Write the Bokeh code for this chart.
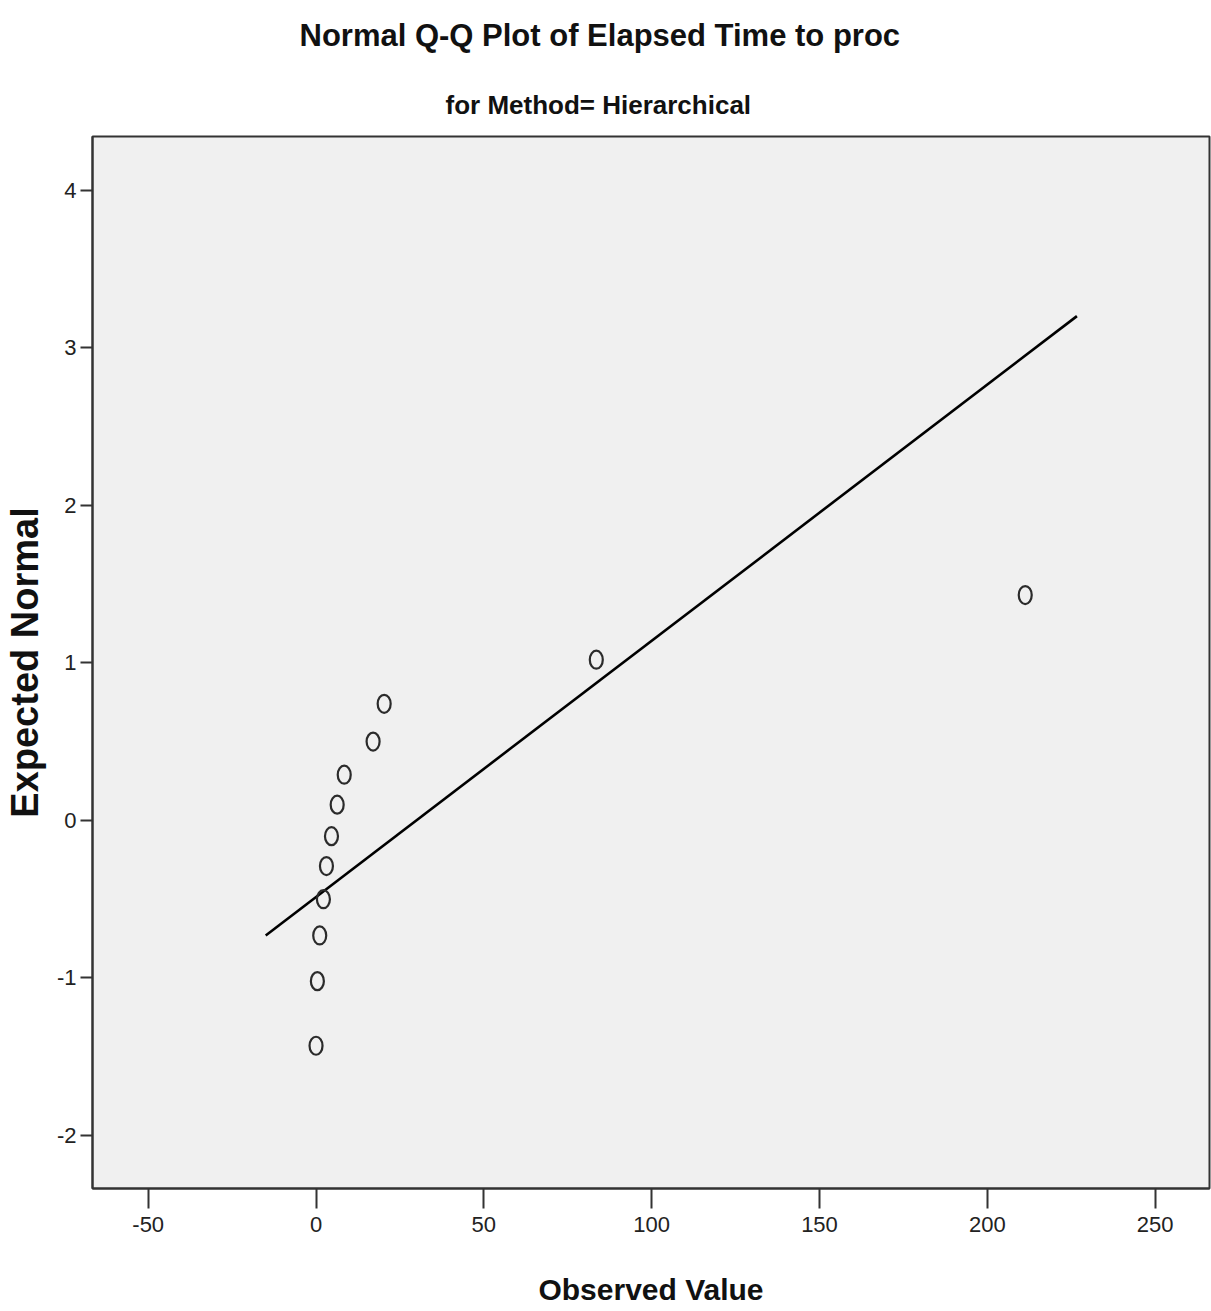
from bokeh.plotting import figure
from bokeh.models import Range1d, FixedTicker, Title, PrintfTickFormatter
from bokeh.embed import file_html
from bokeh.resources import INLINE

# Data
observed = [0.0, 0.4, 1.1, 2.2, 3.1, 4.6, 6.3, 8.4, 17.0, 20.3, 83.5, 211.3]
expected = [-1.43, -1.02, -0.73, -0.50, -0.29, -0.10, 0.10, 0.29, 0.50, 0.74, 1.02, 1.43]
line_x = [-15.0, 226.7]
line_y = [-0.73, 3.20]
x_ticks = [-50, 0, 50, 100, 150, 200, 250]
y_ticks = [-2, -1, 0, 1, 2, 3, 4]

FONT = "Liberation Sans"

p = figure(width=1211, height=1311, output_backend="svg", toolbar_location=None,
           x_range=Range1d(-66.6, 266.2), y_range=Range1d(-2.336, 4.34),
           min_border_left=92, min_border_right=2, min_border_bottom=123, min_border_top=136)

p.background_fill_color = "#f0f0f0"
p.border_fill_color = "white"
p.outline_line_color = "#333333"
p.outline_line_width = 2
p.xgrid.visible = False
p.ygrid.visible = False

sub = Title(text="for Method= Hierarchical", align="left", text_font=FONT,
            text_font_size="26px", text_font_style="bold", text_color="#111111",
            offset=353, standoff=34)
main = Title(text="Normal Q-Q Plot of Elapsed Time to proc", align="left", text_font=FONT,
             text_font_size="31px", text_font_style="bold", text_color="#111111",
             offset=207, standoff=32, vertical_align="top")
p.add_layout(sub, "above")
p.add_layout(main, "above")

for ax in (p.xaxis[0], p.yaxis[0]):
    ax.axis_line_color = "#333333"
    ax.axis_line_width = 2
    ax.major_tick_line_color = "#333333"
    ax.major_tick_line_width = 2
    ax.major_tick_in = 0
    ax.minor_tick_line_color = None
    ax.major_label_text_font = FONT
    ax.major_label_text_font_size = "22px"
    ax.major_label_text_color = "#222222"
    ax.axis_label_text_color = "#111111"
    ax.axis_label_text_font_style = "bold"
    ax.axis_label_text_font = FONT
    ax.formatter = PrintfTickFormatter(format="%d")

p.xaxis.ticker = FixedTicker(ticks=x_ticks)
p.yaxis.ticker = FixedTicker(ticks=y_ticks)
p.xaxis.major_tick_out = 20
p.yaxis.major_tick_out = 12
p.xaxis.major_label_standoff = 8
p.yaxis.major_label_standoff = 4

p.xaxis.axis_label = "Observed Value"
p.xaxis.axis_label_text_font_size = "30px"
p.xaxis.axis_label_standoff = 38

p.yaxis.axis_label = "Expected Normal"
p.yaxis.axis_label_text_font_size = "38px"
p.yaxis.axis_label_standoff = 8

p.line(line_x, line_y, line_color="black", line_width=2.6)
p.ellipse(x=observed, y=expected, width=13, height=18, width_units="screen",
          height_units="screen", fill_color=None, line_color="#2b2b2b", line_width=2.2)

open("out.html", "w").write(file_html(p, INLINE))
